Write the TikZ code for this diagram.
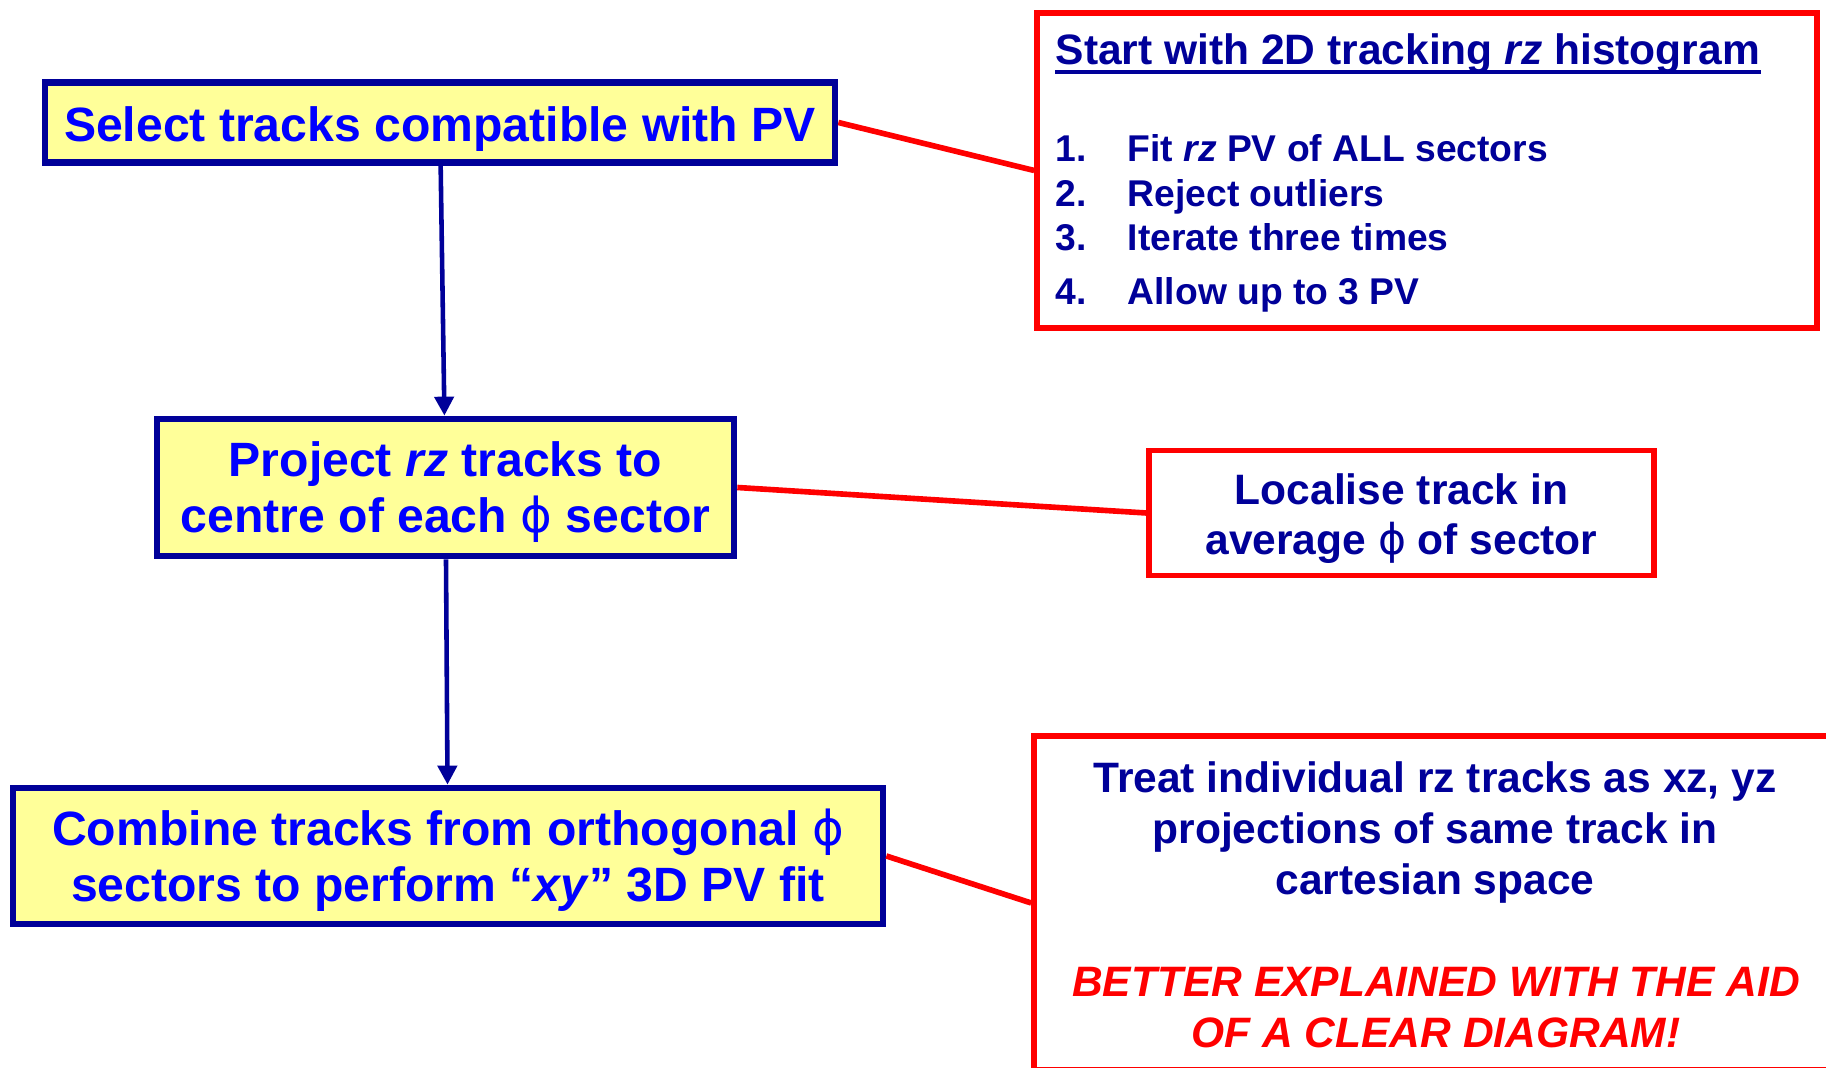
\documentclass[tikz,border=0pt]{standalone}
\usepackage{fontspec}
\setmainfont{Liberation Sans}
\newfontfamily\greekfont{DejaVu Sans}
\usetikzlibrary{calc, positioning}
\usetikzlibrary{arrows.meta}

\definecolor{stepfill}{RGB}{255,255,153}
\definecolor{stepedge}{RGB}{0,0,153}
\definecolor{steptext}{RGB}{0,0,255}
\definecolor{notered}{RGB}{255,0,0}

\newcommand{\phisym}{{\greekfont\mdseries ϕ}}

\tikzset{
  stepbox/.style={draw=stepedge, line width=1.9pt, fill=stepfill, text=steptext,
    font=\bfseries\fontsize{13.7}{15.9}\selectfont, align=center, inner sep=0pt},
  notebox/.style={draw=notered, line width=1.6pt, text=stepedge,
    font=\bfseries\fontsize{12.1}{14.5}\selectfont, align=center, inner sep=0pt},
  listtext/.style={text=stepedge, font=\bfseries\fontsize{10.6}{12.7}\selectfont, inner sep=0pt},
  flow/.style={draw=stepedge, line width=1.3pt, -{Triangle[length=1.9mm,width=1.9mm]}},
  link/.style={draw=notered, line width=1.6pt},
}

\begin{document}
\begin{tikzpicture}
\useasboundingbox (0,0) rectangle (18.26,10.68);
\clip (0,0) rectangle (18.26,10.68);

% main steps
\node[stepbox, minimum width=7.90cm, minimum height=0.80cm, text height=0.48cm] (select) at (4.40,9.455)
  {Select tracks compatible with PV};
\node[stepbox, minimum width=5.77cm, minimum height=1.37cm, text height=1.00cm] (project) at (4.455,5.805)
  {Project \textit{rz} tracks to\\centre of each \phisym\ sector};
\node[stepbox, minimum width=8.70cm, minimum height=1.36cm, text height=1.01cm] (combine) at (4.48,2.12)
  {Combine tracks from orthogonal \phisym\\sectors to perform ``\textit{xy}'' 3D PV fit};

\draw[flow] (select) -- (project);
\draw[flow] (project) -- (combine);

% notes on the right
\node[notebox, minimum width=7.80cm, minimum height=3.15cm] (hist) at (14.27,8.975) {};
\node[notebox, minimum width=5.05cm, minimum height=1.25cm, text height=0.93cm] (avg) at (14.015,5.55)
  {Localise track in\\average \phisym\ of sector};
\node[notebox, minimum width=8.40cm, minimum height=3.34cm] (cart) at (14.54,1.65) {};

\node[listtext, font=\bfseries\fontsize{12.1}{14.5}\selectfont, anchor=base west] (head)
  at (10.55,10.03) {Start with 2D tracking \textit{rz} histogram};
\draw[stepedge, line width=1.1pt] ([yshift=-0.07cm]head.base west) -- ([yshift=-0.07cm]head.base east);

\foreach \n/\y/\txt in {1/9.06/{Fit \textit{rz} PV of ALL sectors},
                        2/8.61/{Reject outliers},
                        3/8.17/{Iterate three times},
                        4/7.63/{Allow up to 3 PV}} {
  \node[listtext, anchor=base west] (num\n) at (10.55,\y) {\n.};
  \node[listtext, anchor=base west] (item\n) at (11.27,\y) {\txt};
}

\node[text=stepedge, font=\bfseries\fontsize{12.1}{14.5}\selectfont, align=center, inner sep=0pt]
  (treat) at (14.35,2.355) {Treat individual rz tracks as xz, yz\\projections of same track in\\cartesian space};
\node[text=notered, font=\bfseries\itshape\fontsize{12.1}{14.5}\selectfont, align=center, inner sep=0pt]
  (better) at (14.36,0.60) {BETTER EXPLAINED WITH THE AID\\OF A CLEAR DIAGRAM!};

\draw[link] (select.east) -- (hist.west);
\draw[link] (project.east) -- (avg.west);
\draw[link] (combine.east) -- (cart.west);
\end{tikzpicture}
\end{document}
